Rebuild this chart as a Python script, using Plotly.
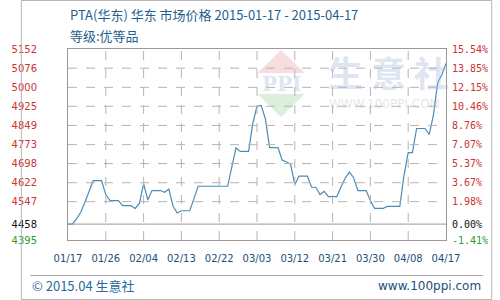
import plotly.graph_objects as go

# ---- data ----
dates = ["2015-01-17", "2015-01-18", "2015-01-19", "2015-01-20", "2015-01-21", "2015-01-22",
         "2015-01-23", "2015-01-25", "2015-01-26", "2015-01-27", "2015-01-29", "2015-01-30",
         "2015-02-01", "2015-02-02", "2015-02-03", "2015-02-04", "2015-02-05", "2015-02-06",
         "2015-02-08", "2015-02-09", "2015-02-10", "2015-02-11", "2015-02-12", "2015-02-13",
         "2015-02-15", "2015-02-16", "2015-02-17", "2015-02-24", "2015-02-25", "2015-02-26",
         "2015-02-27", "2015-03-01", "2015-03-02", "2015-03-03", "2015-03-04", "2015-03-05",
         "2015-03-06", "2015-03-08", "2015-03-09", "2015-03-10", "2015-03-11", "2015-03-12",
         "2015-03-13", "2015-03-15", "2015-03-16", "2015-03-17", "2015-03-18", "2015-03-19",
         "2015-03-20", "2015-03-22", "2015-03-23", "2015-03-24", "2015-03-25", "2015-03-26",
         "2015-03-27", "2015-03-29", "2015-03-30", "2015-03-31", "2015-04-02", "2015-04-03",
         "2015-04-06", "2015-04-07", "2015-04-08", "2015-04-09", "2015-04-10", "2015-04-12",
         "2015-04-13", "2015-04-14", "2015-04-15", "2015-04-16", "2015-04-17"]
prices = [4458, 4458, 4478, 4504, 4544, 4591,
          4630, 4630, 4575, 4551, 4551, 4531,
          4531, 4520, 4540, 4618, 4554, 4591,
          4591, 4584, 4597, 4530, 4502, 4511,
          4511, 4560, 4608, 4608, 4690, 4760,
          4746, 4746, 4857, 4925, 4928, 4875,
          4761, 4761, 4711, 4705, 4695, 4615,
          4648, 4648, 4604, 4604, 4575, 4588,
          4567, 4567, 4605, 4640, 4664, 4642,
          4591, 4591, 4551, 4520, 4520, 4528,
          4528, 4651, 4741, 4741, 4837, 4837,
          4813, 4890, 5017, 5050, 5095]

x_tick_dates = ["2015-01-17", "2015-01-26", "2015-02-04", "2015-02-13", "2015-02-22", "2015-03-03",
                "2015-03-12", "2015-03-21", "2015-03-30", "2015-04-08", "2015-04-17"]
x_tick_labels = ["01/17", "01/26", "02/04", "02/13", "02/22", "03/03",
                 "03/12", "03/21", "03/30", "04/08", "04/17"]
y_tick_values = [4395, 4458, 4547, 4622, 4698, 4773, 4849, 4925, 5000, 5076, 5152]
y_tick_pcts = ["-1.41%", "0.00%", "1.98%", "3.67%", "5.37%", "7.07%", "8.76%",
               "10.46%", "12.15%", "13.85%", "15.54%"]
base_value = 4458
y_min, y_max = 4395, 5152

title_line1 = "PTA(华东) 华东 市场价格 2015-01-17 - 2015-04-17"
title_line2 = "等级:优等品"
footer_left = "© 2015.04 生意社"
footer_right = "www.100ppi.com"

RED, GREEN, BLACK = "#cc3333", "#2f9a2f", "#111111"


def colored(v, text):
    c = BLACK if v == base_value else (GREEN if v < base_value else RED)
    return f"<span style='color:{c}'>{text}</span>"


left_text = [colored(v, str(v)) for v in y_tick_values]
right_text = [colored(v, p) for v, p in zip(y_tick_values, y_tick_pcts)]

# plot area in pixels
L, R, T, B = 50, 451, 49, 240
W, H = R - L, B - T


def px(x):
    return (x - L) / W


def py(y):
    return (B - y) / H


GRID = "#b4b4b4"

fig = go.Figure()
fig.add_trace(go.Scatter(x=dates, y=prices, mode="lines",
                         line=dict(color="#4a8cb8", width=1.2), hoverinfo="skip",
                         showlegend=False))
fig.add_trace(go.Scatter(x=[dates[0]], y=[prices[0]], yaxis="y2", mode="markers",
                         marker=dict(opacity=0), showlegend=False, hoverinfo="skip"))

fig.update_layout(
    width=500, height=300,
    margin=dict(l=L, r=500 - R, t=T, b=300 - B),
    paper_bgcolor="white", plot_bgcolor="white",
    xaxis=dict(range=[dates[0], dates[-1]], tickvals=x_tick_dates, ticktext=x_tick_labels,
               showgrid=False,
               showline=True, linecolor="#999999", mirror=True, zeroline=False,
               ticks="outside", ticklen=9, tickcolor="rgba(0,0,0,0)",
               tickfont=dict(family="DejaVu Sans", size=10, color="#1d4f78")),
    yaxis=dict(range=[y_min, y_max], tickvals=y_tick_values, ticktext=left_text,
               showgrid=False,
               showline=True, linecolor="#999999", mirror=True, zeroline=False,
               ticks="outside", ticklen=28, tickcolor="rgba(0,0,0,0)",
               tickfont=dict(family="DejaVu Sans", size=10)),
    yaxis2=dict(range=[y_min, y_max], tickvals=y_tick_values, ticktext=right_text,
                overlaying="y", side="right", showgrid=False, zeroline=False,
                showline=False, ticks="outside", ticklen=3, tickcolor="rgba(0,0,0,0)",
                tickfont=dict(family="DejaVu Sans Mono", size=10)),
)

shapes = []
# dashed grid lines from the tick arrays
for d in x_tick_dates[1:-1]:
    shapes.append(dict(type="line", xref="x", yref="y", x0=d, x1=d, y0=y_min, y1=y_max,
                       layer="above", line=dict(color=GRID, width=1, dash="dash")))
for v in y_tick_values[2:-1]:
    shapes.append(dict(type="line", xref="x", yref="y", x0=dates[0], x1=dates[-1], y0=v, y1=v,
                       layer="above", line=dict(color=GRID, width=1, dash="dash")))

shapes += [
    # base line
    dict(type="line", xref="x", yref="y", x0=dates[0], x1=dates[-1], y0=base_value, y1=base_value,
         layer="above", line=dict(color="#999999", width=1)),
    # footer separator
    dict(type="line", xref="paper", yref="paper", x0=px(10), x1=px(490), y0=py(275.5), y1=py(275.5),
         line=dict(color="#aaaaaa", width=1)),
    # outer border
    dict(type="rect", xref="paper", yref="paper", x0=px(0.5), x1=px(499.5), y0=py(0.5), y1=py(299.5),
         line=dict(color="#b5b5b5", width=1)),
    # faint logo watermark
    dict(type="path", xref="paper", yref="paper", layer="below",
         path=f"M {px(251)} {py(73)} L {px(276)} {py(50)} L {px(301)} {py(73)} Z",
         fillcolor="#f6dede", line=dict(width=0)),
    dict(type="path", xref="paper", yref="paper", layer="below",
         path=f"M {px(251)} {py(94)} L {px(276)} {py(117)} L {px(301)} {py(94)} Z",
         fillcolor="#dcefdc", line=dict(width=0)),
]

annotations = [
    dict(text=title_line1, x=px(50), y=py(15), xref="paper", yref="paper", xanchor="left",
         yanchor="middle", showarrow=False,
         font=dict(family="Noto Sans CJK SC", size=13, color="#1f5f8e")),
    dict(text=title_line2, x=px(50), y=py(35), xref="paper", yref="paper", xanchor="left",
         yanchor="middle", showarrow=False,
         font=dict(family="Noto Sans CJK SC", size=13, color="#1f5f8e")),
    dict(text=footer_left, x=px(10), y=py(285), xref="paper", yref="paper", xanchor="left",
         yanchor="middle", showarrow=False,
         font=dict(family="Noto Sans CJK SC", size=13, color="#2a6aa0")),
    dict(text=footer_right, x=px(490), y=py(286), xref="paper", yref="paper", xanchor="right",
         yanchor="middle", showarrow=False,
         font=dict(family="DejaVu Sans", size=12, color="#1d4f78")),
    # watermark (semi-transparent so the line shows through)
    dict(text="<b>生 意 社</b>", x=px(324), y=py(71), xref="paper", yref="paper", xanchor="left",
         yanchor="middle", showarrow=False,
         font=dict(family="Noto Sans CJK SC", size=35, color="rgba(170,188,218,0.4)")),
    dict(text="WWW.100PPI.COM", x=px(325), y=py(104), xref="paper", yref="paper", xanchor="left",
         yanchor="middle", showarrow=False,
         font=dict(family="DejaVu Sans", size=12, color="rgba(180,180,180,0.35)")),
    dict(text="<b>PPI</b>", x=px(276), y=py(84), xref="paper", yref="paper", xanchor="center",
         yanchor="middle", showarrow=False,
         font=dict(family="DejaVu Serif", size=20, color="rgba(170,188,218,0.4)")),
]

fig.update_layout(shapes=shapes, annotations=annotations)
fig.write_html("out.html")
